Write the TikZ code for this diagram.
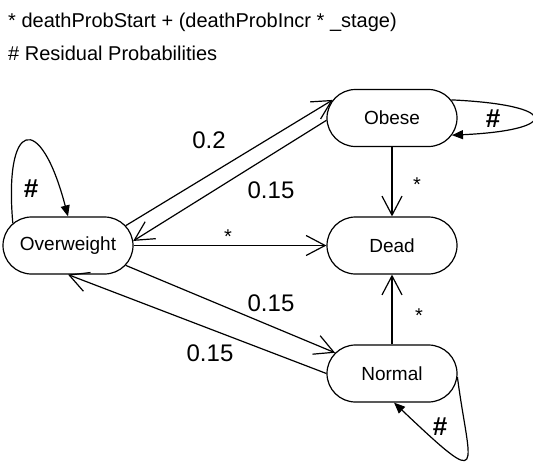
\documentclass[tikz,border=0pt]{standalone}
\usepackage{fontspec}
\setmainfont{Liberation Sans}
\usetikzlibrary{shapes.misc,arrows.meta}
\begin{document}
\begin{tikzpicture}[x=1pt,y=-1pt,
  stbox/.style={rounded rectangle, draw=black, line width=1.2pt, minimum width=130pt, minimum height=57pt, inner sep=0pt, font=\fontsize{19}{22}\selectfont},
  trans/.style={draw=black, line width=1.2pt, -{Straight Barb[length=19pt,width=20pt]}},
  selfloop/.style={draw=black, line width=1.2pt, -{Triangle[length=11pt,width=9pt]}},
  prob/.style={font=\fontsize{24}{28}\selectfont, inner sep=0pt},
  starlbl/.style={font=\fontsize{20}{24}\selectfont, inner sep=0pt, anchor=base},
  hashlbl/.style={font=\bfseries\fontsize{26}{30}\selectfont, inner sep=0pt},
  header/.style={font=\fontsize{20}{24}\selectfont, inner sep=0pt, anchor=base west}]
\useasboundingbox (0,0) rectangle (533,461);

% header
\node[header] (h1) at (8,27) {* deathProbStart + (deathProbIncr * \_stage)};
\node[header] (h2) at (8,60) {\# Residual Probabilities};

% states
\node[stbox] (ow) at (68,245.5) {\makebox[0pt]{Overweight}};
\node[stbox] (ob) at (392,118) {\makebox[0pt]{Obese}};
\node[stbox] (dd) at (392,245.5) {\makebox[0pt]{Dead}};
\node[stbox] (nm) at (392,373.5) {\makebox[0pt]{Normal}};

% transitions
\draw[trans] (ow.19) -- (ob.163);
\draw[trans] (ob.182) -- (ow.4);
\draw[trans] (ow.east) -- (dd.west);
\draw[trans] (ow.-19) -- (nm.160);
\draw[trans] (nm.west) -- (ow.south);
\draw[trans] (ob.south) -- (dd.north);
\draw[trans] (nm.north) -- (dd.south);

% self loops
\draw[selfloop] (ow.158) .. controls +(-9,-103) and +(-28,-106.5) .. (ow.north);
\draw[selfloop] (ob.17) .. controls +(109,5) and +(109,-5) .. (ob.-16);
\draw[selfloop] (nm.-3) .. controls +(12,92) and +(95,90) .. (nm.-86);

% labels
\node[prob] (l1) at (209,140) {0.2};
\node[prob] (l2) at (271,190) {0.15};
\node[prob] (l3) at (271,303) {0.15};
\node[prob] (l4) at (210,353) {0.15};
\node[starlbl] (s1) at (228,243.5) {*};
\node[starlbl] (s2) at (417,191.5) {*};
\node[starlbl] (s3) at (419,322.5) {*};
\node[hashlbl] (x1) at (31,189) {\#};
\node[hashlbl] (x2) at (493,119) {\#};
\node[hashlbl] (x3) at (440,427) {\#};
\end{tikzpicture}
\end{document}
